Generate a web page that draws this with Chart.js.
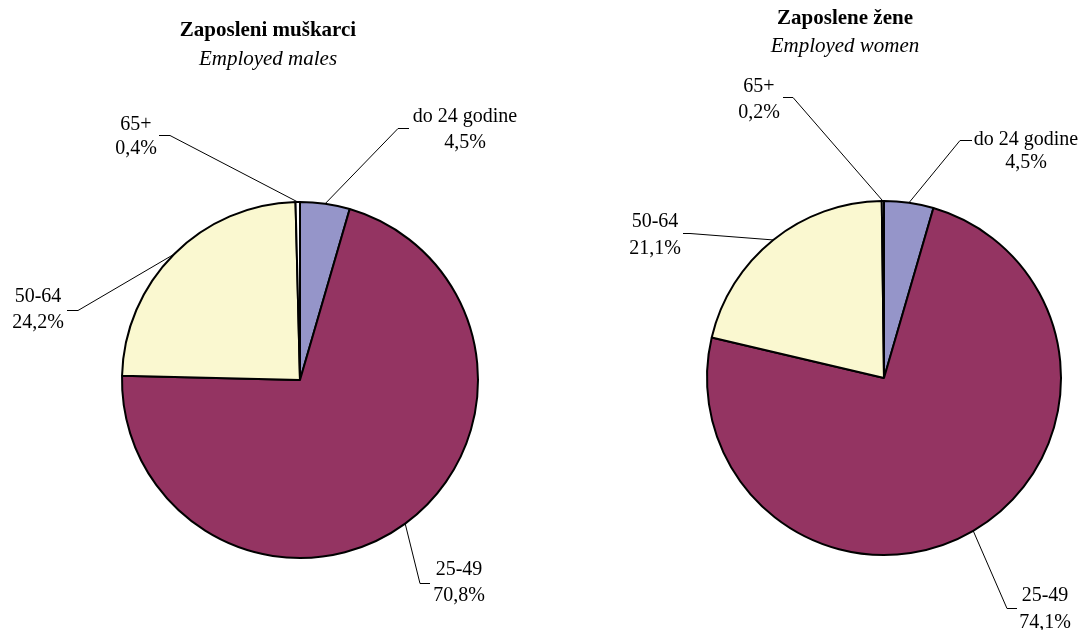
<!DOCTYPE html>
<html lang="sr">
  <head>
    <meta charset="UTF-8" />
    <script src="https://cdn.jsdelivr.net/npm/chart.js@4.4.1/dist/chart.umd.min.js"></script>
    <title>Zaposleni po starosti</title>
    <style>
      body {
        margin: 0;
        padding: 0;
        background: #fff;
      }
      .wrap {
        position: relative;
        width: 1083px;
        height: 630px;
      }
      .wrap canvas {
        position: absolute;
        left: 0;
        top: 0;
      }
    </style>
  </head>
  <body>
    <div class="wrap">
      <canvas id="males" width="1083" height="630"></canvas>
      <canvas id="women" width="1083" height="630"></canvas>
    </div>
    <script>
      // data
      const categories = ['do 24 godine', '25-49', '50-64', '65+']
      const malesShare = [4.5, 70.8, 24.2, 0.4]
      const womenShare = [4.5, 74.1, 21.1, 0.2]
      const sliceColors = ['#9595C9', '#943462', '#FAF8D0', '#FFFFFF']

      const FONT = '"Liberation Serif", "Times New Roman", serif'
      const pct = (v) => v.toFixed(1).replace('.', ',') + '%'

      // label placement: elbow, end of leader, text centre x, two baselines
      const malesLabels = [
        { ex: 398, ey: 128, lx: 409, cx: 465, b1: 122, b2: 148 },
        { ex: 420, ey: 583, lx: 430, cx: 459, b1: 575, b2: 601 },
        { ex: 78, ey: 310, lx: 67, cx: 38, b1: 302, b2: 328 },
        { ex: 170, ey: 135, lx: 159, cx: 136, b1: 130, b2: 154 },
      ]
      const womenLabels = [
        { ex: 960, ey: 140, lx: 972, cx: 1026, b1: 145, b2: 168 },
        { ex: 1007, ey: 608, lx: 1017, cx: 1045, b1: 601, b2: 628 },
        { ex: 690, ey: 233, lx: 683, cx: 655, b1: 227, b2: 254 },
        { ex: 793, ey: 97, lx: 783, cx: 759, b1: 92, b2: 118 },
      ]

      const leaderLabels = {
        id: 'leaderLabels',
        afterDraw(chart, args, opts) {
          const ctx = chart.ctx
          const meta = chart.getDatasetMeta(0)
          const values = chart.data.datasets[0].data
          ctx.save()
          // titles
          ctx.fillStyle = '#000'
          ctx.textAlign = 'center'
          ctx.textBaseline = 'alphabetic'
          ctx.font = 'bold 21px ' + FONT
          ctx.fillText(opts.title, opts.tx, opts.tb1)
          ctx.font = 'italic 21px ' + FONT
          ctx.fillText(opts.subtitle, opts.tx, opts.tb2)
          // slice labels with leader lines
          ctx.font = '20px ' + FONT
          ctx.lineWidth = 1
          ctx.strokeStyle = '#000'
          meta.data.forEach((arc, i) => {
            const p = opts.labels[i]
            const mid = (arc.startAngle + arc.endAngle) / 2
            const sx = arc.x + Math.cos(mid) * arc.outerRadius
            const sy = arc.y + Math.sin(mid) * arc.outerRadius
            ctx.beginPath()
            ctx.moveTo(sx, sy)
            ctx.lineTo(p.ex, p.ey + 0.5)
            ctx.lineTo(p.lx, p.ey + 0.5)
            ctx.stroke()
            ctx.fillText(chart.data.labels[i], p.cx, p.b1)
            ctx.fillText(pct(values[i]), p.cx, p.b2)
          })
          ctx.restore()
        },
      }

      const makePie = (id, values, radius, padding, labelOpts) =>
        new Chart(document.getElementById(id), {
          type: 'pie',
          data: {
            labels: categories,
            datasets: [
              {
                data: values,
                backgroundColor: sliceColors,
                borderColor: '#000',
                borderWidth: 2,
                radius: radius,
              },
            ],
          },
          options: {
            responsive: false,
            animation: false,
            layout: { padding: padding },
            plugins: {
              legend: { display: false },
              tooltip: { enabled: false },
              leaderLabels: labelOpts,
            },
          },
          plugins: [leaderLabels],
        })

      makePie('males', malesShare, 178, { left: 0, right: 483, top: 130, bottom: 0 }, {
        title: 'Zaposleni muškarci',
        subtitle: 'Employed males',
        tx: 268,
        tb1: 36,
        tb2: 65,
        labels: malesLabels,
      })
      makePie('women', womenShare, 177, { left: 685, right: 0, top: 126, bottom: 0 }, {
        title: 'Zaposlene žene',
        subtitle: 'Employed women',
        tx: 845,
        tb1: 24,
        tb2: 52,
        labels: womenLabels,
      })
    </script>
  </body>
</html>
